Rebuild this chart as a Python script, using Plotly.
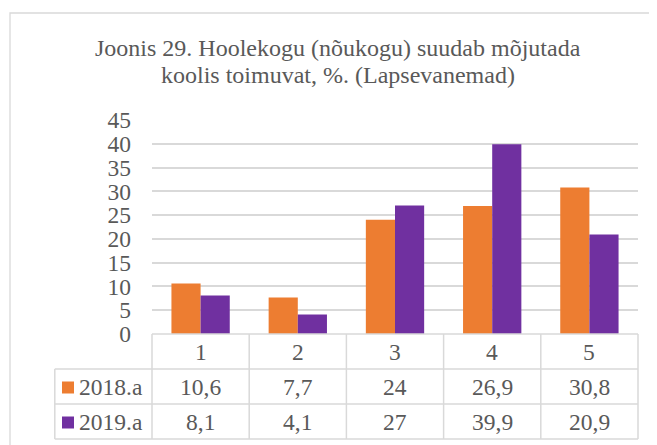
import plotly.graph_objects as go

categories = ["1", "2", "3", "4", "5"]
series_names = ["2018.a", "2019.a"]
values_2018 = [10.6, 7.7, 24, 26.9, 30.8]
values_2019 = [8.1, 4.1, 27, 39.9, 20.9]
labels_2018 = ["10,6", "7,7", "24", "26,9", "30,8"]
labels_2019 = ["8,1", "4,1", "27", "39,9", "20,9"]
y_ticks = [0, 5, 10, 15, 20, 25, 30, 35, 40, 45]

title_lines = ["Joonis 29. Hoolekogu (nõukogu) suudab mõjutada",
               "koolis toimuvat, %. (Lapsevanemad)"]

ORANGE = "#ED7D31"
PURPLE = "#7030A0"
TEXT = "#595959"
GRID = "#D9D9D9"
FONT = "Liberation Serif"
FS = 23.5
FS_TITLE = 24

OFF = 8  # page body margin offset
W, H = 649, 437
ML, MR, MT, MB = 152 - OFF, 19, 120 - OFF, 111
plot_w = W - ML - MR
plot_h = H - MT - MB

fig = go.Figure()
fig.add_trace(go.Bar(x=categories, y=values_2018, name=series_names[0],
                     marker=dict(color=ORANGE, line=dict(width=0))))
fig.add_trace(go.Bar(x=categories, y=values_2019, name=series_names[1],
                     marker=dict(color=PURPLE, line=dict(width=0))))

n = len(categories)
row_h = 35  # px height of each table row


def py(px_below):
    return -px_below / plot_h


def pxx(px):
    return px / plot_w


def page_y(py_page):
    # paper y for a page pixel row
    return 1 + (120 - py_page) / plot_h


shapes = []
annotations = []
line_style = dict(color=GRID, width=1.5)

shapes.append(dict(type="line", xref="paper", yref="paper", x0=0, x1=1, y0=0, y1=0, line=line_style))
for r in range(1, 4):
    shapes.append(dict(type="line", xref="paper", yref="paper",
                       x0=-1 / n, x1=1, y0=py(r * row_h), y1=py(r * row_h), line=line_style))
for i in range(n + 1):
    shapes.append(dict(type="line", xref="paper", yref="paper",
                       x0=i / n, x1=i / n, y0=0, y1=py(3 * row_h), line=line_style))
shapes.append(dict(type="line", xref="paper", yref="paper",
                   x0=-1 / n, x1=-1 / n, y0=py(row_h), y1=py(3 * row_h), line=line_style))

# outer chart border (left at page x=10, top at page y=13; extends past right/bottom)
shapes.append(dict(type="rect", xref="paper", yref="paper",
                   x0=pxx(10 - 152), x1=pxx(680 - 152),
                   y0=py(480 - 334), y1=page_y(13),
                   line=dict(color=GRID, width=1.3), fillcolor="rgba(0,0,0,0)", layer="below"))

for i, c in enumerate(categories):
    xc = (i + 0.5) / n
    for r, txt in enumerate([c, labels_2018[i], labels_2019[i]]):
        annotations.append(dict(x=xc, y=py((0.5 + r) * row_h), xref="paper", yref="paper", text=txt,
                                showarrow=False, xanchor="center", yanchor="middle",
                                font=dict(family=FONT, size=FS, color=TEXT)))

for r, (name, col) in enumerate(zip(series_names, [ORANGE, PURPLE])):
    yc = py((1.5 + r) * row_h)
    sq = 12
    shapes.append(dict(type="rect", xref="paper", yref="paper",
                       x0=pxx(62 - 152), x1=pxx(62 + sq - 152),
                       y0=yc - (sq / 2 + 1) / plot_h, y1=yc + (sq / 2 - 1) / plot_h,
                       fillcolor=col, line=dict(width=0)))
    annotations.append(dict(x=pxx(77 - 152), y=yc, xref="paper", yref="paper", text=name,
                            showarrow=False, xanchor="left", yanchor="middle",
                            font=dict(family=FONT, size=FS, color=TEXT)))

# title as two centred lines
for line, yp in zip(title_lines, [48, 75]):
    annotations.append(dict(x=pxx(338 - 152), y=page_y(yp), xref="paper", yref="paper", text=line,
                            showarrow=False, xanchor="center", yanchor="middle",
                            font=dict(family=FONT, size=FS_TITLE, color=TEXT)))

fig.update_layout(
    width=W, height=H,
    margin=dict(l=ML, r=MR, t=MT, b=MB, pad=0),
    paper_bgcolor="white", plot_bgcolor="white",
    barmode="group", bargap=0.4, bargroupgap=0,
    showlegend=False,
    xaxis=dict(showticklabels=False, showgrid=False, zeroline=False, showline=False, ticks=""),
    yaxis=dict(range=[0, 45], tickvals=y_ticks, ticktext=[str(v) for v in y_ticks],
               showgrid=True, gridcolor=GRID, gridwidth=1.5, zeroline=False, showline=False,
               ticks="", ticklabelstandoff=20,
               tickfont=dict(family=FONT, size=FS, color=TEXT)),
    shapes=shapes,
    annotations=annotations,
)

fig.write_html("out.html")
